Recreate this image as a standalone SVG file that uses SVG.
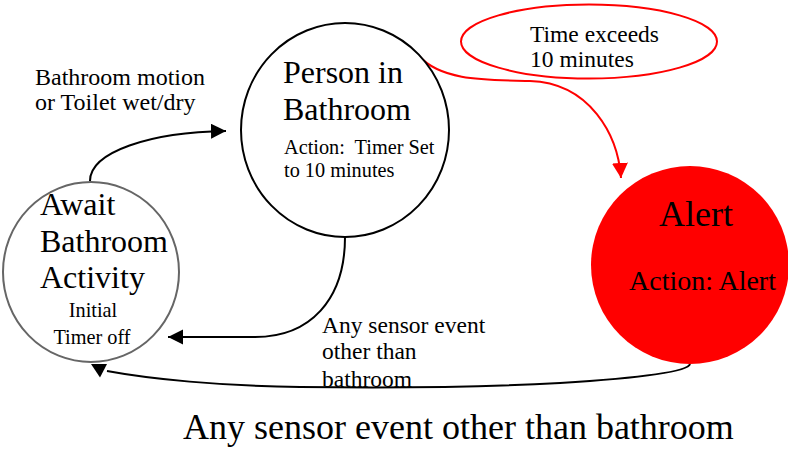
<svg xmlns="http://www.w3.org/2000/svg" width="788" height="449" viewBox="0 0 788 449">
<defs>
<style>
text{font-family:"Liberation Serif","Times New Roman",serif;fill:#000;white-space:pre}
.big{font-size:32px}
.sm{font-size:20.3px}
.lbl{font-size:23.5px}
.edge{fill:none;stroke:#000;stroke-width:2}
.red{fill:none;stroke:#f00;stroke-width:2}
</style>
<marker id="ah" markerUnits="userSpaceOnUse" markerWidth="16" markerHeight="16" refX="15" refY="7.5" orient="auto">
<path d="M0,0 L15,7.5 L0,15 Z" fill="#000"/>
</marker>
<marker id="ahr" markerUnits="userSpaceOnUse" markerWidth="16" markerHeight="18" refX="15" refY="8" orient="auto">
<path d="M0,0 L15,8 L0,16 Z" fill="#f00"/>
</marker>
</defs>
<rect width="788" height="449" fill="#fff"/>

<g id="connectors">
<path class="edge" d="M90,181 C90,152 150,132 226,131" marker-end="url(#ah)"/>
<path class="edge" d="M345,237 C345,300 310,337 255,337 L168,337" marker-end="url(#ah)"/>
<path class="edge" d="M690,364 C688,372 640,378 560,383 C470,388 380,388 300,387 C220,386 150,379 107,371"/>
<polygon points="91,364 107,364 100,377.5" fill="#000"/>
<path class="red" d="M418,55 C440,80 480,80 530,81 C590,83 618,135 621,178" marker-end="url(#ahr)"/>
</g>

<g id="await">
<ellipse cx="91" cy="272" rx="88" ry="90" fill="#fff" stroke="#666" stroke-width="2"/>
<text class="big" x="40" y="215">Await</text>
<text class="big" x="40" y="252">Bathroom</text>
<text class="big" x="40" y="288">Activity</text>
<text class="sm" x="93" y="317" text-anchor="middle">Initial</text>
<text class="sm" x="92" y="344" text-anchor="middle">Timer off</text>
</g>

<g id="person">
<ellipse cx="345" cy="130" rx="104" ry="107" fill="#fff" stroke="#000" stroke-width="2"/>
<text class="big" x="283" y="83">Person in</text>
<text class="big" x="283" y="120">Bathroom</text>
<text class="sm" x="284" y="154">Action:  Timer Set</text>
<text class="sm" x="284" y="177">to 10 minutes</text>
</g>

<g id="alert">
<circle cx="690" cy="265" r="99" fill="#f00"/>
<text x="696" y="226" text-anchor="middle" font-size="36">Alert</text>
<text x="629" y="290" font-size="28">Action: Alert</text>
</g>

<g id="timeout">
<ellipse cx="589" cy="41.5" rx="128" ry="37" fill="#fff" stroke="#f00" stroke-width="2"/>
<text class="lbl" x="530" y="42">Time exceeds</text>
<text class="lbl" x="530" y="67">10 minutes</text>
</g>

<g id="labels">
<text x="35" y="85" font-size="24">Bathroom motion</text>
<text x="35" y="110" font-size="24">or Toilet wet/dry</text>
<text class="lbl" x="322" y="333">Any sensor event</text>
<text class="lbl" x="322" y="359">other than</text>
<text class="lbl" x="322" y="387">bathroom</text>
<text x="183" y="439" font-size="36">Any sensor event other than bathroom</text>
</g>
</svg>
